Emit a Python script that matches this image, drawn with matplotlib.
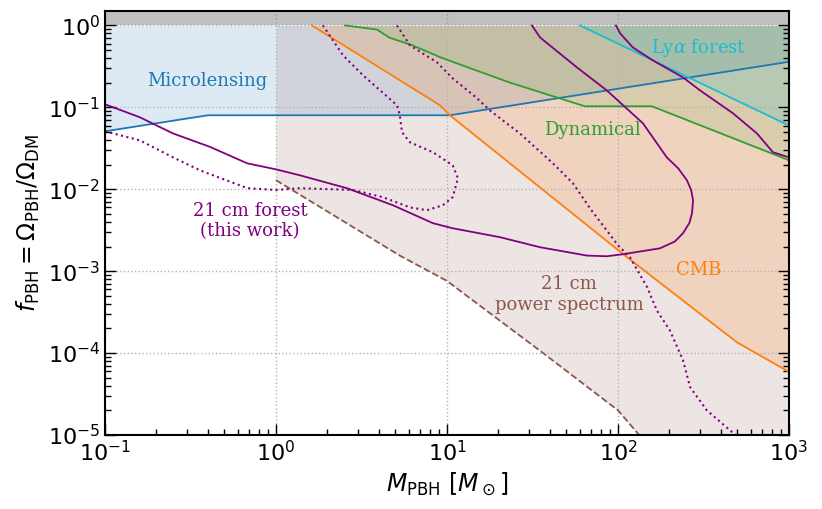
import matplotlib
matplotlib.use('Agg')
import matplotlib.pyplot as plt

# ---------------- data ----------------
# Microlensing bound
ml_x = [0.1, 0.4, 10.4, 1000]
ml_y = [0.051, 0.08, 0.08, 0.36]

# 21 cm power spectrum bound (dashed)
ps_x = [1.0, 5.3, 10.0, 36.5, 100, 133]
ps_y = [0.0129, 1.55e-3, 7.6e-4, 1.0e-4, 2.0e-5, 1.0e-5]

# CMB bound
cmb_x = [1.62, 9.1, 10.4, 113, 497, 1000]
cmb_y = [1.0, 0.106, 0.08, 1.48e-3, 1.35e-4, 5.9e-5]

# Dynamical bound
dyn_x = [2.53, 3.9, 4.6, 6.3, 9.1, 13.1, 23.4, 64, 158, 1000]
dyn_y = [1.0, 0.89, 0.71, 0.57, 0.41, 0.31, 0.2, 0.103, 0.103, 0.0226]

# Lyman-alpha forest bound
lya_x = [60, 1000]
lya_y = [1.0, 0.06]

# 21 cm forest (this work), solid: main branch
fs_x = [0.1, 0.16, 0.25, 0.41, 0.68, 1.0, 1.38, 2.6, 4.83, 8.28, 10.8, 20.4, 35,
        65.8, 86, 107, 176, 215, 240, 262, 271, 275, 268, 253, 225, 193, 140, 86,
        57.6, 35, 31.4]
fs_y = [0.109, 0.0756, 0.048, 0.033, 0.0207, 0.0175, 0.0148, 0.0103, 0.00638,
        0.00385, 0.00334, 0.0026, 0.00196, 0.00155, 0.00152, 0.00161, 0.0019,
        0.0023, 0.0029, 0.0039, 0.0051, 0.0073, 0.0098, 0.0129, 0.018, 0.0245,
        0.0638, 0.161, 0.307, 0.714, 1.0]
# solid: upper-right branch
fs2_x = [97.3, 103, 122, 160, 240, 302, 471, 650, 806, 1000]
fs2_y = [1.0, 0.8, 0.54, 0.374, 0.232, 0.161, 0.0845, 0.048, 0.0283, 0.0245]

# 21 cm forest, dotted: left loop
fd_x = [0.1, 0.16, 0.25, 0.36, 0.68, 1.0, 1.38, 2.82, 4.22, 6.08, 7.64, 9.47, 10.8,
        11.6, 10.8, 8.28, 6.08, 5.46, 5.3, 5.1, 3.23, 2.47, 1.88]
fd_y = [0.051, 0.0395, 0.0245, 0.017, 0.0103, 0.0098, 0.0103, 0.0098, 0.008, 0.006,
        0.00555, 0.00638, 0.008, 0.0136, 0.0196, 0.0283, 0.0374, 0.0496, 0.08,
        0.106, 0.246, 0.43, 1.0]
# dotted: right branch
fd2_x = [5.1, 6.08, 8.74, 10.8, 15, 17.8, 26.7, 41.7, 54.6, 68.6, 100, 117.5, 148,
         169, 201, 240, 264, 331, 471, 490]
fd2_y = [1.0, 0.57, 0.354, 0.226, 0.129, 0.092, 0.048, 0.0207, 0.0118, 0.00586,
         0.00207, 0.00148, 6.4e-4, 3.3e-4, 1.9e-4, 8.2e-5, 3.85e-5, 2.0e-5,
         1.06e-5, 1.0e-5]

XMIN, XMAX = 0.1, 1000
YMIN, YMAX = 1e-5, 1.5

# ---------------- figure ----------------
fig = plt.figure(figsize=(8.22, 5.09), dpi=100)
ax = fig.add_axes([0.1277, 0.1454, 0.8321, 0.8330])
ax.set_xscale('log')
ax.set_yscale('log')
ax.set_xlim(XMIN, XMAX)
ax.set_ylim(YMIN, YMAX)

lw = 1.3
# fills
ax.fill_between(ml_x, ml_y, 1, color='tab:blue', alpha=0.15, lw=0, zorder=1)
ax.fill_between(ps_x + [XMAX], ps_y + [YMIN], 1, color='tab:brown', alpha=0.15,
                lw=0, zorder=1)
ax.fill_between(cmb_x, cmb_y, 1, color='tab:orange', alpha=0.17, lw=0, zorder=1)
ax.fill_between(dyn_x, dyn_y, 1, color='tab:green', alpha=0.12, lw=0, zorder=1)
ax.fill_between(lya_x, lya_y, 1, color='tab:cyan', alpha=0.17, lw=0, zorder=1)

# lines
ax.plot(ml_x, ml_y, color='tab:blue', lw=lw, zorder=4)
ax.plot(ps_x, ps_y, color='tab:brown', lw=lw, ls='--', zorder=4)
ax.plot(cmb_x, cmb_y, color='tab:orange', lw=lw, zorder=4)
ax.plot(dyn_x, dyn_y, color='tab:green', lw=lw, zorder=4)
ax.plot(lya_x, lya_y, color='tab:cyan', lw=lw, zorder=4)
ax.plot(fs_x, fs_y, color='purple', lw=lw, zorder=5)
ax.plot(fs2_x, fs2_y, color='purple', lw=lw, zorder=5)
ax.plot(fd_x, fd_y, color='purple', lw=1.5, ls=':', zorder=5)
ax.plot(fd2_x, fd2_y, color='purple', lw=1.5, ls=':', zorder=5)

# excluded f > 1
ax.axhspan(1, YMAX, color='gray', alpha=0.5, lw=0, zorder=6)

# grid
ax.grid(True, which='major', ls=':', color='0.7', lw=1.0, zorder=2)
ax.set_axisbelow(False)

# labels
tf = dict(family='DejaVu Serif', fontsize=13, ha='center', va='center', zorder=7)
ax.text(0.395, 0.207, 'Microlensing', color='tab:blue', **tf)
ax.text(0.705, 0.0041, '21 cm forest\n(this work)', color='purple',
        linespacing=1.2, **tf)
ax.text(70.5, 0.0524, 'Dynamical', color='tab:green', **tf)
ax.text(298, 0.524, r'Ly$\alpha$ forest', color='tab:cyan',
        math_fontfamily='dejavuserif', **tf)
ax.text(298, 1.03e-3, 'CMB', color='tab:orange', **tf)
ax.text(51.7, 5.2e-4, '21 cm\npower spectrum', color='tab:brown',
        linespacing=1.2, **tf)

ax.set_xlabel(r'$M_{\rm PBH}\ [M_\odot]$', fontsize=17)
ax.set_ylabel(r'$f_{\rm PBH} = \Omega_{\rm PBH}/\Omega_{\rm DM}$', fontsize=17)

ax.tick_params(which='both', direction='in', right=True, top=False,
               labelsize=16, width=1)
ax.tick_params(which='major', length=8)
ax.tick_params(which='minor', length=4)
for s in ax.spines.values():
    s.set_linewidth(1.5)
    s.set_zorder(8)

fig.savefig('out.png', dpi=100)
